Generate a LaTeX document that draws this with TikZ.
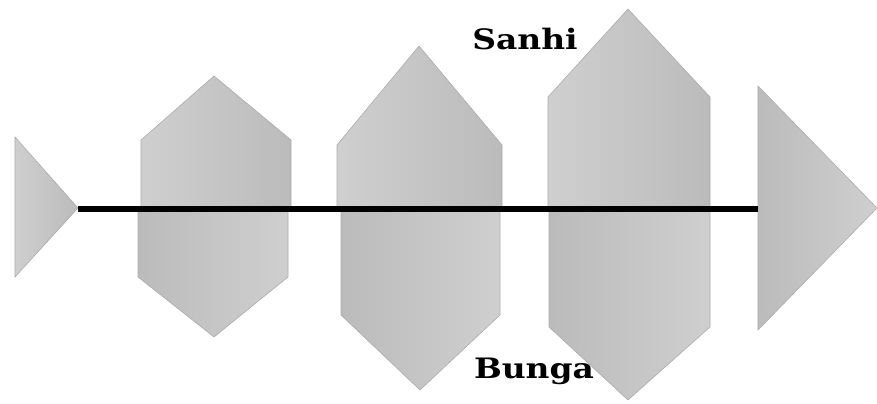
\documentclass[tikz,border=0pt]{standalone}
\usetikzlibrary{positioning}
\usepackage{xcolor}
\usepackage{fontspec}
\newfontfamily\wordfont[FakeStretch=1.17]{DejaVu Serif}
\definecolor{shadelight}{HTML}{CFCFCF}
\definecolor{shadedark}{HTML}{BBBBBB}
\definecolor{edgegray}{HTML}{ABABAB}

\begin{document}
\begin{tikzpicture}[
  x=0.03cm,
  y=-0.03cm,
  uphalf/.style={left color=shadelight, right color=shadedark, draw=edgegray, line width=0.5pt},
  lowhalf/.style={left color=shadedark, right color=shadelight, draw=edgegray, line width=0.5pt},
  spine/.style={line width=4.3pt, black},
  word/.style={font=\wordfont\fontsize{24}{28}\selectfont\bfseries, inner sep=0pt, anchor=base}
]
\useasboundingbox (0,0) rectangle (877,404);

\shade[uphalf] (15,137) -- (78,208) -- (15,277) -- cycle;
\shade[lowhalf] (758,86) -- (877,208) -- (758,330) -- cycle;

\shade[uphalf] (141,209) -- (141,140) -- (214,76) -- (291,140) -- (291,209) -- cycle;
\shade[lowhalf] (138,209) -- (138,277) -- (214,337) -- (288,277) -- (288,209) -- cycle;

\shade[uphalf] (337,209) -- (337,145) -- (419,46) -- (502,145) -- (502,209) -- cycle;
\shade[lowhalf] (341,209) -- (341,315) -- (420,390) -- (500,315) -- (500,209) -- cycle;

\shade[uphalf] (548,209) -- (548,97) -- (628,9) -- (710,97) -- (710,209) -- cycle;
\shade[lowhalf] (549,209) -- (549,327) -- (628,400) -- (710,327) -- (710,209) -- cycle;

\coordinate (tail) at (78,209);
\coordinate (head) at (758,209);
\draw[spine] (tail) -- (head);

\node[word] (sanhi) at (525,50) {Sanhi};
\node[word] (bunga) at (534,378) {Bunga};
\end{tikzpicture}
\end{document}
